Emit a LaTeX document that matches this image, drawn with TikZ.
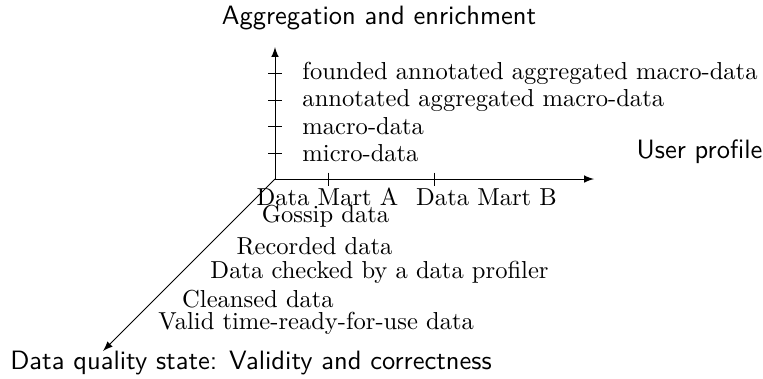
\documentclass[tikz,border=0pt]{standalone}
\usepackage{tikz}
\usetikzlibrary{arrows}

\tikzset{axislabel/.style={font=\sffamily\fontsize{10.8}{13}\selectfont},
  level/.style={anchor=west, inner sep=0pt},
  state/.style={inner sep=0pt}}

\begin{document}
\begin{tikzpicture}[x=0.4073pt, y=-0.4073pt]
\useasboundingbox (0,0) rectangle (763,378);
\coordinate (O) at (275,179);
\coordinate (yend) at (275,47);
\coordinate (xend) at (594,179);
\coordinate (zend) at (103,351);
\draw [-latex] (O) -- (yend);
\draw [-latex] (O) -- (xend);
\draw [-latex] (O) -- (zend);
% ticks
\foreach \y in {73,100,126,153} \draw (268,\y)--(282,\y);
\foreach \x in {328,434} \draw (\x,172.5)--(\x,185.5);
% axis names
\node [axislabel] (agg) at (379,18) {Aggregation and enrichment};
\node [axislabel] (user) at (699.5,152) {User profile};
\node [axislabel] (quality) at (251,363) {Data quality state: Validity and correctness};
% levels
\node [level] (found) at (302,73) {founded annotated aggregated macro-data};
\node [level] (annot) at (302,100) {annotated aggregated macro-data};
\node [level] (macro) at (302,126) {macro-data};
\node [level] (micro) at (302,153) {micro-data};
% data marts
\node [state] (martA) at (327.5,197) {Data Mart A};
\node [state] (martB) at (486.5,197) {Data Mart B};
% quality states
\node [state] (gossip) at (325.5,216.5) {Gossip data};
\node [state] (recorded) at (314.5,246) {Recorded data};
\node [state, anchor=west] (checked) at (210,272) {Data checked by a data profiler};
\node [state] (cleansed) at (258,299) {Cleansed data};
\node [state, anchor=west] (valid) at (158,323) {Valid time-ready-for-use data};
\end{tikzpicture}
\end{document}
